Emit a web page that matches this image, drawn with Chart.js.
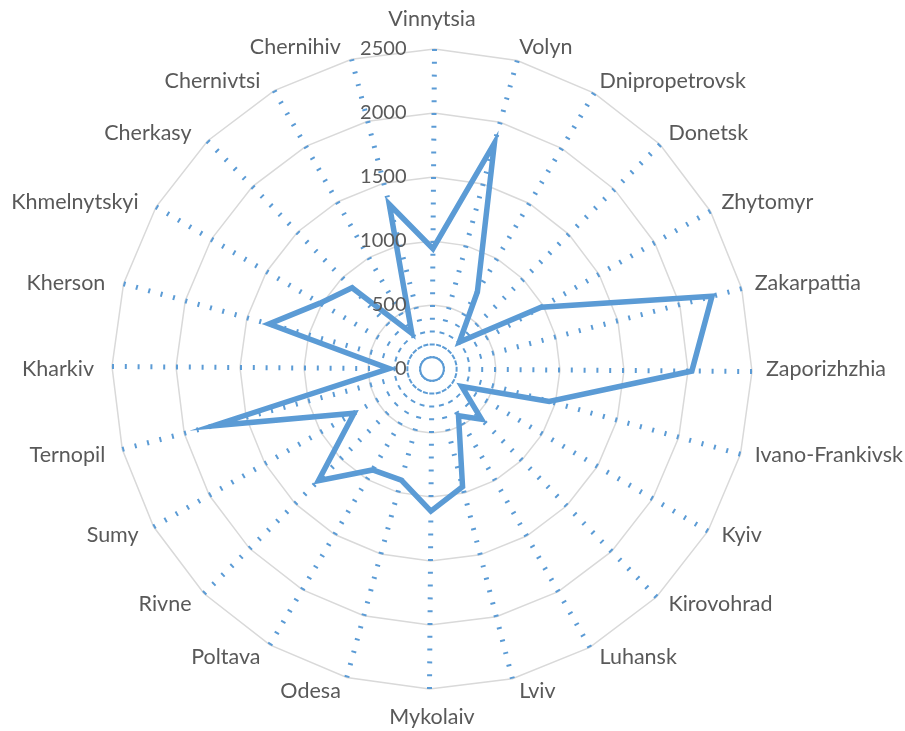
<!DOCTYPE html>
<html><head><meta charset="utf-8">
<script src="https://cdn.jsdelivr.net/npm/chart.js@4.4.1/dist/chart.umd.min.js"></script>
<style>html,body{margin:0;padding:0;background:#fff;}canvas{display:block}</style>
</head><body>
<canvas id="c" width="905" height="731"></canvas>
<script>
const categories = ["Vinnytsia","Volyn","Dnipropetrovsk","Donetsk","Zhytomyr","Zakarpattia","Zaporizhzhia","Ivano-Frankivsk","Kyiv","Kirovohrad","Luhansk","Lviv","Mykolaiv","Odesa","Poltava","Rivne","Sumy","Ternopil","Kharkiv","Kherson","Khmelnytskyi","Cherkasy","Chernivtsi","Chernihiv"];
const values = [940,1830,700,300,980,2260,2030,950,270,550,420,950,1110,900,915,1245,700,1765,335,1320,1015,890,320,1330];
const tickStep = 500;
const axisMin = 0;
const axisMax = 2500;

const ROT = 0.45;
const TEXT = '#595959';
const TICK_FONT = '20px Lato';
const LABEL_FONT = '21.5px Lato';

const labelPlugin = {
  id: 'excelLabels',
  afterDatasetsDraw(chart) {
    const s = chart.scales.r;
    const ctx = chart.ctx;
    ctx.save();
    ctx.fillStyle = TEXT;
    ctx.font = TICK_FONT;
    ctx.textBaseline = 'middle';
    ctx.textAlign = 'right';
    s.ticks.forEach(t => {
      const d = s.getDistanceFromCenterForValue(t.value);
      ctx.fillText(t.label, s.xCenter - 25.5, s.yCenter - d);
    });
    ctx.font = LABEL_FONT;
    const R = s.drawingArea;
    const n = chart.data.labels.length;
    chart.data.labels.forEach((lab, i) => {
      const a = s.getIndexAngle(i) - ROT * Math.PI / 180;
      const deg = Math.round(i * 360 / n);
      let x, y;
      if (deg === 0) {
        ctx.textAlign = 'center'; x = s.xCenter; y = s.yCenter - R - 30;
      } else if (deg === 180) {
        ctx.textAlign = 'center'; x = s.xCenter; y = s.yCenter + R + 28;
      } else {
        const g = R + 13;
        x = s.xCenter + g * Math.sin(a);
        y = s.yCenter - g * Math.cos(a);
        if (deg < 180) { ctx.textAlign = 'left'; x += 1; }
        else { ctx.textAlign = 'right'; x -= 5; }
      }
      ctx.fillText(lab, x, y);
    });
    ctx.restore();
  }
};

new Chart(document.getElementById('c'), {
  type: 'radar',
  data: {
    labels: categories,
    datasets: [{
      data: values,
      borderColor: '#5B9BD5',
      borderWidth: 5.5,
      backgroundColor: 'rgba(0,0,0,0)',
      fill: false,
      pointRadius: 0,
      pointHoverRadius: 0,
      tension: 0
    }]
  },
  options: {
    responsive: false,
    animation: false,
    devicePixelRatio: 1,
    layout: { padding: { left: 112, top: 49, right: 153, bottom: 42 } },
    plugins: { legend: { display: false }, tooltip: { enabled: false } },
    elements: { line: { borderJoinStyle: 'miter' } },
    scales: {
      r: {
        min: axisMin,
        max: axisMax,
        startAngle: ROT,
        beginAtZero: true,
        ticks: { stepSize: tickStep, display: false, callback: v => String(v) },
        pointLabels: { display: false },
        grid: { color: '#D9D9D9', lineWidth: 1.5, circular: false },
        angleLines: { color: '#5B9BD5', lineWidth: 5, borderDash: [2, 10.8], borderDashOffset: 2 }
      }
    }
  },
  plugins: [labelPlugin]
});
</script>
</body></html>
